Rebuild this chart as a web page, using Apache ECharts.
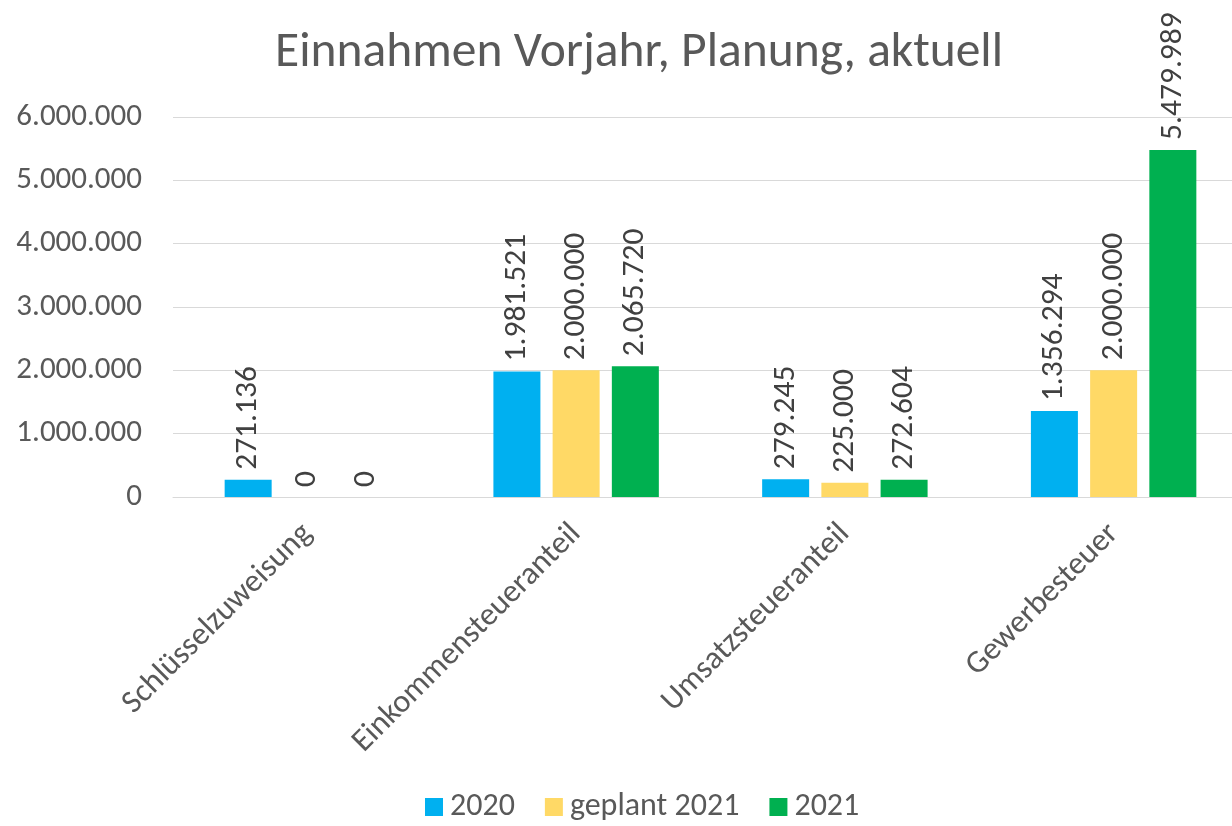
<!DOCTYPE html>
<html>
<head>
<meta charset="utf-8">
<script src="https://cdn.jsdelivr.net/npm/echarts@6/dist/echarts.min.js"></script>
<style>
  html, body { margin: 0; padding: 0; background: #fff; }
  #chart { width: 1232px; height: 826px; }
</style>
</head>
<body>
<div id="chart"></div>
<script>
const categories = ['Schlüsselzuweisung', 'Einkommensteueranteil', 'Umsatzsteueranteil', 'Gewerbesteuer'];
const values2020 = [271136, 1981521, 279245, 1356294];
const valuesPlan2021 = [0, 2000000, 225000, 2000000];
const values2021 = [0, 2065720, 272604, 5479989];

const FONT = 'Carlito, "Liberation Sans", sans-serif';
const fmt = (v) => String(Math.round(v)).replace(/\B(?=(\d{3})+(?!\d))/g, '.');

const chart = echarts.init(document.getElementById('chart'));

const barLabel = {
  show: true,
  position: 'top',
  rotate: 90,
  align: 'left',
  verticalAlign: 'middle',
  distance: 10,
  color: '#404040',
  fontSize: 31.5,
  fontFamily: FONT,
  formatter: (p) => fmt(p.value),
};

const makeSeries = (name, data, color) => ({
  name,
  type: 'bar',
  data,
  barWidth: 47,
  barGap: '26%',
  itemStyle: { color },
  label: barLabel,
});

chart.setOption({
  animation: false,
  title: {
    text: 'Einnahmen Vorjahr, Planung, aktuell',
    left: 270,
    top: 24,
    textStyle: { color: '#595959', fontSize: 49.5, fontWeight: 'normal', fontFamily: FONT },
  },
  legend: {
    bottom: -2,
    left: 420,
    itemWidth: 18,
    itemHeight: 18,
    itemGap: 30,
    icon: 'rect',
    textStyle: { color: '#595959', fontSize: 32, fontFamily: FONT, padding: [0, 0, 0, 2] },
  },
  grid: {
    left: 173, top: 117, width: 1075, height: 380,
    containLabel: false,
    outerBoundsMode: 'none',
  },
  xAxis: {
    type: 'category',
    data: categories,
    axisLine: { lineStyle: { color: '#d9d9d9', width: 1 } },
    axisTick: { show: false },
    axisLabel: {
      rotate: 45,
      interval: 0,
      color: '#595959',
      fontSize: 32,
      fontFamily: FONT,
      margin: 32,
    },
  },
  yAxis: {
    type: 'value',
    min: 0,
    max: 6000000,
    interval: 1000000,
    axisLine: { show: false },
    axisTick: { show: false },
    splitLine: { lineStyle: { color: '#d9d9d9', width: 1 } },
    axisLabel: {
      color: '#595959',
      fontSize: 31,
      fontFamily: FONT,
      margin: 31,
      formatter: (v) => fmt(v),
    },
  },
  series: [
    makeSeries('2020', values2020, '#00B0F0'),
    makeSeries('geplant 2021', valuesPlan2021, '#FFD966'),
    makeSeries('2021', values2021, '#00B050'),
  ],
});
</script>
</body>
</html>
